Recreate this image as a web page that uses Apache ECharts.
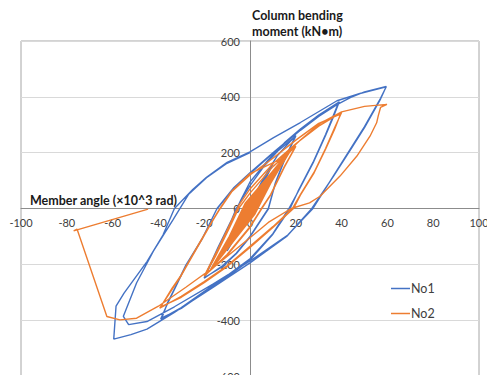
<!DOCTYPE html>
<html>
<head>
<meta charset="utf-8">
<script src="https://cdn.jsdelivr.net/npm/echarts@6/dist/echarts.min.js"></script>
<style>html,body{margin:0;padding:0;background:#fff}#c{width:487px;height:375px}</style>
</head>
<body>
<div id="c"></div>
<script>
// ---- data (member angle ×10^-3 rad, column bending moment kN·m) ----
const xTicks = [-100, -80, -60, -40, -20, 0, 20, 40, 60, 80, 100];
const yTicks = [-600, -400, -200, 0, 200, 400, 600];
const seriesNames = ['No1', 'No2'];

const no1Points = [
  [0,0],[2.5,45],[0.8,10],[-2.5,-42],[-0.8,-8],[2.5,46],[0.8,10],[-2.5,-43],[-0.8,-8],
  [5,88],[2,30],[-5,-82],[-2,-25],[5,90],[2,30],[-5,-84],[-2,-25],
  [10,160],[5,75],[0,-10],[-10,-150],[-5,-65],[0,15],[10,162],[5,75],[0,-12],[-10,-152],[-5,-65],[0,15],
  [6,110],[12,190],[20,262],[15,175],[11,90],[8,0],[0,-100],[-6,-160],[-12,-205],[-20,-250],
  [-15,-165],[-10,-80],[-6,0],[0,82],[6,150],[12,205],[20,260],[15,172],[11,88],[8,-2],[0,-102],[-6,-162],[-12,-208],[-20,-248],
  [-14,-140],[-8,-40],[-4,30],[0,95],[8,175],[15,235],[22,285],[30,335],[39,382],
  [36,320],[33,262],[27.6,164],[21,60],[17,0],[10,-90],[0,-180],[-10,-240],[-19,-291],[-30,-355],[-39,-396],
  [-36,-340],[-33,-290],[-28,-205],[-21,-111],[-14.4,0],[-7,75],[0,128],[10,200],[22,282],[30,332],[38.5,376],
  [36,325],[33,265],[27.5,165],[21,62],[17.5,0],[10,-92],[0,-185],[-10,-245],[-19,-295],[-30,-358],[-38.5,-392],
  [-36,-338],[-33,-288],[-28,-203],[-21,-110],[-14.5,-2],[-7,72],[0,125],[10,198],[22,280],[30,330],[38,372],[44,398],[50,418],[59.5,437],
  [57,392],[50,290],[44,212],[36.5,116],[27,0],[16,-100],[0,-195],[-16,-282],[-33,-372],[-45,-432],[-52,-452],[-59.5,-468],
  [-58.5,-350],[-55,-303],[-45,-190],[-38,-95],[-33,0],[-25,68],[-19,112],[-10,165],[0,203],[10.3,254],[22,308],[38,386],[48,412],[59.5,436],
  [57,395],[50,293],[44,215],[36.5,118],[27.5,0],[16.5,-95],[0,-188],[-16,-270],[-33,-352],[-45,-405],[-53,-416],
  [-55.3,-386],[-49.5,-266],[-42.2,-153],[-33.5,-39],[-26.9,50],[-19,110],[-10,162],[0,200]
];

const no2Points = [
  [0,0],[2.5,32],[0.5,5],[-2.5,-32],[-0.5,-5],[2.5,33],[0.5,5],[-2.5,-33],[-0.5,-5],
  [5,62],[1.5,12],[-5,-62],[-1.5,-12],[5,63],[1.5,12],[-5,-63],[-1.5,-12],
  [7.5,92],[3,25],[-1,-25],[-7.5,-95],[-3,-28],[1,25],[7.5,93],[3,25],[-1,-26],[-7.5,-96],[-3,-28],[1,24],
  [10,122],[5,50],[0,-20],[-10,-128],[-5,-52],[0,20],[10,124],[5,50],[0,-22],[-10,-130],[-5,-54],[0,18],
  [12.5,150],[6,65],[0,-30],[-12.5,-160],[-6,-68],[0,28],[12.5,152],[6,64],[0,-32],[-12.5,-162],[-6,-70],[0,26],
  [15,180],[8,85],[1,-25],[-15,-195],[-8,-90],[-1,25],[15,182],[8,84],[1,-27],[-15,-197],[-8,-92],[-1,23],
  [17.5,205],[9,92],[2,-20],[-17.5,-222],[-9,-100],[-2,20],[17.5,206],[9,90],[2,-22],[-17.5,-224],[-9,-102],[-2,18],
  [8,115],[14,175],[20,224],[15,150],[9,50],[5,0],[0,-65],[-10,-165],[-20,-243],
  [-15,-170],[-9,-70],[-5,0],[0,55],[10,150],[20,222],[15,148],[9,48],[5,-2],[0,-68],[-10,-168],[-20,-242],
  [-14,-145],[-9,-60],[-5,10],[0,70],[10,160],[20,232],[30,295],[40,344],
  [37,290],[33,215],[28,130],[22,50],[18.5,0],[10,-65],[0,-135],[-10,-205],[-20,-262],[-30,-315],[-39.4,-357],
  [-34,-290],[-30,-240],[-22,-125],[-16,-40],[-13,0],[-8,60],[0,120],[10,180],[20,245],[30,305],[39.5,338],
  [37,285],[33,212],[28,128],[22,48],[19,0],[10,-68],[0,-140],[-10,-208],[-20,-266],[-30,-318],[-39,-352],
  [-34,-285],[-30,-238],[-22,-122],[-16,-38],[-13,2],[-8,62],[0,125],[13,175],[22,245],[30.6,305],[40,346],[50,366],[59.8,373],
  [57,362],[56,332],[55.3,307],[52.4,259],[46.6,187],[39.3,116],[30.6,44],[26,20],[18,0],[8,-50],[0,-105],[-15,-205],[-28,-282],[-40,-350],[-49.5,-393],[-56.8,-399],[-62.5,-387],
  [-75.5,-74],[-77,-80],[-44.5,-2]
];

const seriesColors = ['#4472C4', '#ED7D31'];
const FONT = 'Lato, "Liberation Sans", sans-serif';

// grid geometry: value 0 sits 167.5px above the bottom edge and 229px right of the left edge
const chart = echarts.init(document.getElementById('c'), null, {renderer: 'svg'});
chart.setOption({
  animation: false,
  backgroundColor: '#fff',
  grid: {left: 21, top: 41, width: 458, height: 335, show: true, borderColor: '#a6a6a6', borderWidth: 1,
         outerBoundsMode: 'none', containLabel: false},
  legend: {
    data: seriesNames, orient: 'vertical', left: 386, top: 277,
    icon: 'rect', itemWidth: 19, itemHeight: 1.5, itemGap: 12,
    textStyle: {fontFamily: FONT, fontSize: 12.5, color: '#404040', padding: [0,0,0,-4]}
  },
  xAxis: {
    type: 'value', min: xTicks[0], max: xTicks[xTicks.length - 1], interval: 20,
    position: 'bottom', offset: -167.5,
    name: 'Member angle (×10^3 rad)', nameLocation: 'start', nameGap: -9,
    nameTextStyle: {fontFamily: FONT, fontWeight: 'bold', fontSize: 12.5, color: '#1a1a1a', align: 'left', verticalAlign: 'bottom', padding: [0,0,2,0]},
    axisLine: {onZero: false, lineStyle: {color: '#8c8c8c', width: 1}},
    axisTick: {show: false},
    axisLabel: {fontFamily: FONT, fontSize: 11, color: '#404040', margin: 8},
    splitLine: {show: false}
  },
  yAxis: {
    type: 'value', min: yTicks[0], max: yTicks[yTicks.length - 1], interval: 200,
    position: 'left', offset: -229,
    name: 'Column bending\nmoment (kN•m)', nameLocation: 'end', nameGap: 2,
    nameTextStyle: {fontFamily: FONT, fontWeight: 'bold', fontSize: 12.5, lineHeight: 16, color: '#1a1a1a', align: 'left', verticalAlign: 'bottom', padding: [0,0,0,2]},
    axisLine: {onZero: false, lineStyle: {color: '#8c8c8c', width: 1}},
    axisTick: {show: false},
    axisLabel: {fontFamily: FONT, fontSize: 11, color: '#404040', margin: 10},
    splitLine: {show: true, lineStyle: {color: '#d9d9d9', width: 1}}
  },
  series: [
    {name: seriesNames[0], type: 'line', data: no1Points, symbol: 'none', smooth: false,
     lineStyle: {color: seriesColors[0], width: 1.4}, itemStyle: {color: seriesColors[0]}},
    {name: seriesNames[1], type: 'line', data: no2Points, symbol: 'none', smooth: false,
     lineStyle: {color: seriesColors[1], width: 1.4}, itemStyle: {color: seriesColors[1]}}
  ]
});
</script>
</body>
</html>
